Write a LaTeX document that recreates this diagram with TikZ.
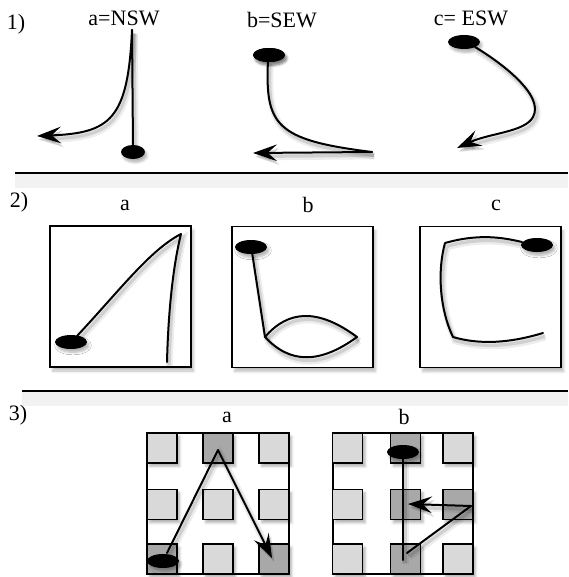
\documentclass[tikz,border=0pt]{standalone}
\usepackage{fontspec}
\setmainfont{Liberation Serif}
\usetikzlibrary{arrows.meta,shapes.geometric,shadows.blur}
\definecolor{lightsq}{RGB}{217,217,217}
\definecolor{darksq}{RGB}{168,168,168}
\tikzset{
  lbl/.style={font=\fontsize{16.5}{18}\selectfont, inner sep=0pt},
  shd/.style={preaction={draw=black, opacity=0.07, line width=5pt, transform canvas={shift={(1.8pt,-3pt)}}},
              preaction={draw=black, opacity=0.12, line width=2.5pt, transform canvas={shift={(1.5pt,-2.5pt)}}}},
  stroke/.style={draw=black, line width=1.5pt, line cap=round, line join=round, shd},
  arr/.style={-{Stealth[length=18pt,width=12.5pt,inset=7pt]}},
  blob/.style={ellipse, fill=black, inner sep=0pt, minimum width=24pt, minimum height=10.5pt, blur shadow={shadow blur steps=5, shadow xshift=1.5pt, shadow yshift=-2.5pt, shadow opacity=30}},
  smallblob/.style={blob, minimum width=18pt, minimum height=10.5pt},
  panel/.style={rectangle, draw=black, line width=1.2pt, fill=white, inner sep=0pt, minimum size=105.75pt, blur shadow={shadow blur steps=6, shadow xshift=2pt, shadow yshift=-3pt, shadow opacity=25}},
  sq/.style={rectangle, draw=black, line width=1.2pt, inner sep=0pt, minimum size=22.5pt, blur shadow={shadow blur steps=4, shadow xshift=2pt, shadow yshift=-2.5pt, shadow opacity=30}},
  lsq/.style={sq, fill=lightsq},
  dsq/.style={sq, fill=darksq},
  rule/.style={draw=black, line width=2pt, preaction={draw=black, opacity=0.05, line width=10pt, transform canvas={shift={(0pt,-6pt)}}}},
}
\begin{document}
\begin{tikzpicture}[x=0.75pt,y=-0.75pt]
\useasboundingbox (0,0) rectangle (568,577);
% ---------- section 1 ----------
\node[lbl] (n1) at (16,24) {1)};
\node[lbl] (t1a) at (124,18) {a=NSW};
\node[lbl] (t1b) at (282,20) {b=SEW};
\node[lbl] (t1c) at (471,18) {c= ESW};
% a
\coordinate (a1top) at (132,30);
\coordinate (a1end) at (37,136);
\draw[stroke] (a1top) .. controls (128,120) and (110,133) .. (a1end) [arr];
\draw[stroke] (a1top) -- (133,147);
\node[smallblob] (a1dot) at (133,152) {};
% b
\node[blob] (b1dot) at (269,55) {};
\coordinate (b1corner) at (372,152);
\coordinate (b1end) at (253,153);
\draw[stroke] (268,60) .. controls (265,125) and (275,140) .. (b1corner);
\draw[stroke,arr] (b1corner) -- (b1end);
\node[blob] at (269,55) {};
% c
\coordinate (c1end) at (457,148);
\draw[stroke,arr] (475,47) .. controls (500,62) and (545,95) .. (533,117) .. controls (525,132) and (490,133) .. (c1end);
\node[blob] (c1dot) at (464,42) {};
% rule 1
\coordinate (r1l) at (15,173);
\coordinate (r1r) at (568,173);
\draw[rule] (r1l) -- (r1r);
% ---------- section 2 ----------
\node[lbl] (n2) at (19,202) {2)};
\node[lbl] (t2a) at (125,205) {a};
\node[lbl] (t2b) at (308,205) {b};
\node[lbl] (t2c) at (496,205) {c};
\node[panel] (p2a) at (120.5,296.5) {};
\node[panel] (p2b) at (302.5,297) {};
\node[panel] (p2c) at (490.5,297) {};
% a
\coordinate (a2top) at (181,234);
\coordinate (a2end) at (167,362);
\draw[stroke] (77,336) .. controls (120,290) and (150,250) .. (a2top) .. controls (172,270) and (168,320) .. (a2end);
\node[blob] (a2dot) at (71,342) {};
% b
\coordinate (b2l) at (265,337);
\coordinate (b2r) at (357,337);
\draw[stroke] (252,252) -- (b2l);
\draw[stroke] (b2l) .. controls (288,310) and (318,308) .. (b2r);
\draw[stroke] (b2l) .. controls (290,364) and (320,364) .. (b2r);
\node[blob] (b2dot) at (251,247) {};
% c
\coordinate (c2end) at (543,333);
\draw[stroke] (522,242) .. controls (505,238) and (480,233) .. (445,243) .. controls (437,272) and (440,310) .. (453,337) .. controls (480,345) and (510,343) .. (c2end);
\node[blob] (c2dot) at (537,245) {};
% rule 2
\coordinate (r2l) at (22,391);
\coordinate (r2r) at (568,391);
\draw[rule] (r2l) -- (r2r);
% ---------- section 3 ----------
\node[lbl] (n3) at (18,415) {3)};
\node[lbl] (t3a) at (227,417) {a};
\node[lbl] (t3b) at (404,417) {b};
% grid a
\draw[line width=1.2pt] (147,433) rectangle (289,574);
\node[lsq] (ga11) at (162,448) {};
\node[dsq] (ga12) at (218,448) {};
\node[lsq] (ga13) at (274,448) {};
\node[lsq] (ga21) at (162,504.5) {};
\node[lsq] (ga22) at (218,504.5) {};
\node[lsq] (ga23) at (274,504.5) {};
\node[dsq] (ga31) at (162,559) {};
\node[lsq] (ga32) at (218,559) {};
\node[dsq] (ga33) at (274,559) {};
\coordinate (a3top) at (218,450);
\coordinate (a3end) at (272,558);
\draw[stroke,arr] (167,553) -- (a3top) -- (a3end);
\node[blob] (a3dot) at (163,561) {};
% grid b
\draw[line width=1.2pt] (333,433) rectangle (473,574);
\node[lsq] (gb11) at (347.5,448) {};
\node[dsq] (gb12) at (405.5,448) {};
\node[lsq] (gb13) at (458,448) {};
\node[lsq] (gb21) at (347.5,504.5) {};
\node[dsq] (gb22) at (405.5,504.5) {};
\node[dsq] (gb23) at (458,504.5) {};
\node[lsq] (gb31) at (347.5,559) {};
\node[dsq] (gb32) at (405.5,559) {};
\node[lsq] (gb33) at (458,559) {};
\coordinate (b3bot) at (403,560);
\coordinate (b3corner) at (471,506);
\coordinate (b3end) at (408,504);
\draw[stroke] (403,458) -- (b3bot);
\draw[stroke] (407,553) -- (b3corner);
\draw[stroke,arr] (b3corner) -- (b3end);
\node[blob] (b3dot) at (403,452) {};
\end{tikzpicture}
\end{document}
